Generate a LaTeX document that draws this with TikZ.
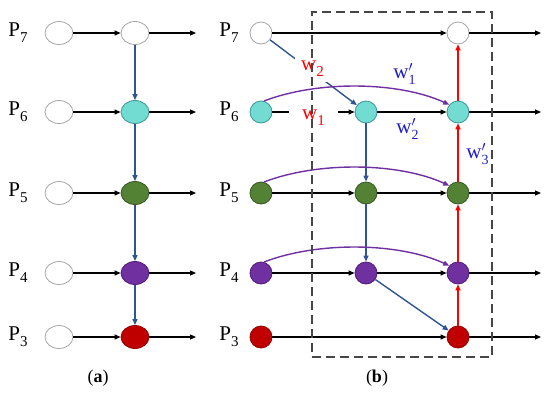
\documentclass[tikz,border=0pt]{standalone}
\usepackage{fontspec}
\setmainfont{Liberation Serif}
\usetikzlibrary{shapes.geometric,arrows.meta}
\definecolor{cyanF}{RGB}{115,220,210}
\definecolor{cyanD}{RGB}{60,150,150}
\definecolor{greenF}{RGB}{84,130,53}
\definecolor{greenD}{RGB}{56,87,35}
\definecolor{purpF}{RGB}{112,48,160}
\definecolor{purpD}{RGB}{80,30,120}
\definecolor{redF}{RGB}{192,0,0}
\definecolor{redD}{RGB}{150,0,0}
\definecolor{blueA}{RGB}{47,85,151}
\definecolor{wblue}{RGB}{30,30,200}
\definecolor{boxG}{RGB}{70,70,70}
\newcommand\subt[1]{\raisebox{-0.28em}{\fontsize{15}{15}\selectfont #1}}
\newcommand\Plab[1]{P\subt{#1}}
\newcommand\wsub[1]{w\subt{#1}}
\newcommand\wpr[1]{w\rlap{\raisebox{-0.3em}{\fontsize{14}{14}\selectfont #1}}\raisebox{0.35em}{\fontsize{14}{14}\selectfont$\prime$}\hspace{0.1em}}
\begin{document}
\begin{tikzpicture}[x=1pt,y=-1pt,
  ell/.style={ellipse,minimum width=28pt,minimum height=23pt,inner sep=0pt,draw=gray!70,fill=white,line width=0.8pt},
  circ/.style={circle,minimum size=22pt,inner sep=0pt,draw=gray!70,fill=white,line width=0.8pt},
  cy/.style={fill=cyanF,draw=cyanD},
  gr/.style={fill=greenF,draw=greenD},
  pu/.style={fill=purpF,draw=purpD},
  rd/.style={fill=redF,draw=redD},
  plab/.style={font=\fontsize{21}{21}\selectfont,inner sep=0pt},
  wlab/.style={font=\fontsize{21}{21}\selectfont,inner sep=1pt},
  caplab/.style={font=\fontsize{18}{18}\selectfont},
  blk/.style={line width=1.1pt,-{Triangle[length=6pt,width=5pt]}},
  bl/.style={draw=blueA,line width=1.4pt,-{Triangle[length=6pt,width=5pt]}},
  rdl/.style={draw=red,line width=1.6pt,-{Triangle[length=6pt,width=5pt]}},
  pul/.style={draw=purpF,line width=1.4pt,-{Triangle[length=6pt,width=5pt]}}]
\useasboundingbox (0,0) rectangle (550,397);
% ---------- panel (a)
\foreach \r/\y in {7/33,6/112,5/193,4/273,3/337}{
  \node[plab] (ap\r) at (18,\y) {\Plab{\r}};
  \node[ell] (a1\r) at (59,\y) {};
  \coordinate (ae\r) at (196,\y);
}
\node[ell] (a27) at (135,33) {};
\node[ell,cy] (a26) at (135,112) {};
\node[ell,gr] (a25) at (135,193) {};
\node[ell,pu] (a24) at (135,273) {};
\node[ell,rd] (a23) at (135,337) {};
\foreach \r in {7,6,5,4,3}{
  \draw[blk] (a1\r) -- (a2\r);
  \draw[blk] (a2\r) -- (ae\r);
}
\draw[bl] (a27) -- (a26);
\draw[bl] (a26) -- (a25);
\draw[bl] (a25) -- (a24);
\draw[bl] (a24) -- (a23);
\node[caplab] (capa) at (98,378) {(\textbf{a})};
% ---------- panel (b)
\foreach \r/\y in {7/33,6/112,5/193,4/273,3/337}{
  \node[plab] (bp\r) at (229,\y) {\Plab{\r}};
  \coordinate (be\r) at (541,\y);
}
\node[circ] (b17) at (261,33) {};
\node[circ,cy] (b16) at (261,112) {};
\node[circ,gr] (b15) at (261,193) {};
\node[circ,pu] (b14) at (261,273) {};
\node[circ,rd] (b13) at (261,337) {};
\node[circ,cy] (b26) at (366,112) {};
\node[circ,gr] (b25) at (366,193) {};
\node[circ,pu] (b24) at (366,273) {};
\node[circ] (b37) at (458,33) {};
\node[circ,cy] (b36) at (458,112) {};
\node[circ,gr] (b35) at (458,193) {};
\node[circ,pu] (b34) at (458,273) {};
\node[circ,rd] (b33) at (458,337) {};
% horizontal
\draw[blk] (b17) -- (b37);
\draw[blk] (b16) -- node[wlab,fill=white,text=red,inner xsep=13pt,inner ysep=4pt,yshift=-6pt] (w1) {\wsub{1}} (b26);
\draw[blk] (b26) -- (b36);
\draw[blk] (b15) -- (b25);
\draw[blk] (b25) -- (b35);
\draw[blk] (b14) -- (b24);
\draw[blk] (b24) -- (b34);
\draw[blk] (b13) -- (b33);
\foreach \r in {7,6,5,4,3}{ \draw[blk] (b3\r) -- (be\r); }
% blue
\draw[bl] (b17) -- node[wlab,fill=white,text=red,inner sep=6pt,xshift=-1pt,yshift=4pt] (w2) {\wsub{2}} (b26);
\draw[bl] (b26) -- (b25);
\draw[bl] (b25) -- (b24);
\draw[bl] (b24) -- (b33);
% red
\draw[rdl] (b33) -- (b34);
\draw[rdl] (b34) -- (b35);
\draw[rdl] (b35) -- (b36);
\draw[rdl] (b36) -- (b37);
% purple curves
\foreach \r in {6,5,4}{
  \draw[pul] (b1\r.75) .. controls +(55,-21) and +(-50,-23) .. (b3\r.140);
}
% w' labels
\node[wlab,text=wblue] (w1p) at (403,74) {\wpr{1}};
\node[wlab,text=wblue] (w2p) at (406,129) {\wpr{2}};
\node[wlab,text=wblue] (w3p) at (476,154) {\wpr{3}};
% dashed box
\node[draw=boxG,dash pattern=on 9pt off 5pt,line width=1.3pt,minimum width=180pt,minimum height=345pt,inner sep=0pt] (box) at (402,184.5) {};
\node[caplab] (capb) at (377,378) {(\textbf{b})};
\end{tikzpicture}
\end{document}
